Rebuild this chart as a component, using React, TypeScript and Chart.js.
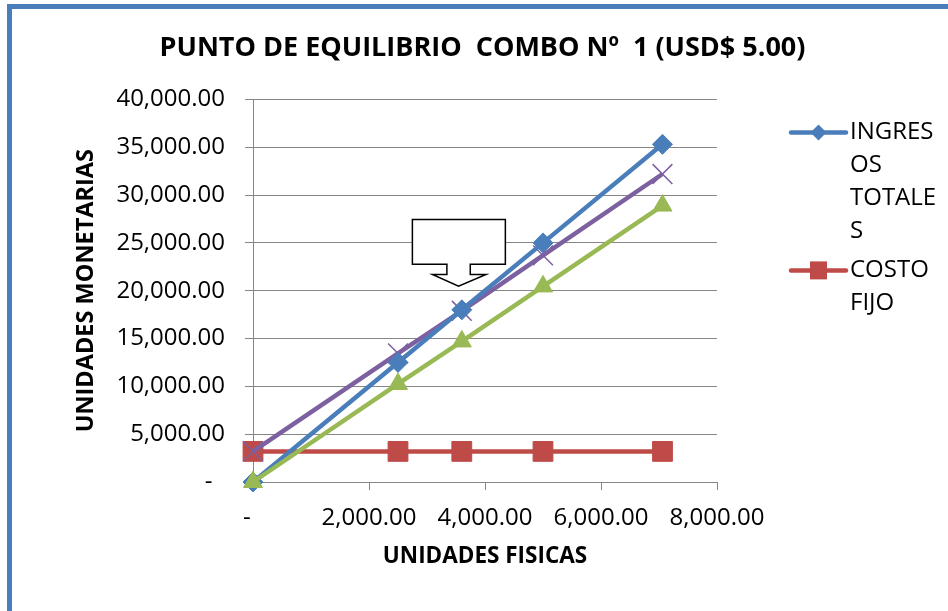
import React, { useEffect, useRef } from 'react';
import { Chart, registerables } from 'chart.js';

Chart.register(...registerables);

// ---- Data ----
const TITLE = 'PUNTO DE EQUILIBRIO  COMBO Nº  1 (USD$ 5.00)';
const X_TITLE = 'UNIDADES FISICAS';
const Y_TITLE = 'UNIDADES MONETARIAS';

const UNIDADES = [0, 2500, 3600, 5000, 7060];
const INGRESOS_TOTALES = [0, 12500, 18000, 25000, 35300];
const COSTO_FIJO = [3200, 3200, 3200, 3200, 3200];
const COSTO_VARIABLE = [0, 10250, 14700, 20450, 28900];
const COSTO_TOTAL = [3200, 13450, 17900, 23700, 32200];

const X_MIN = 0;
const X_MAX = 8000;
const X_STEP = 2000;
const Y_MIN = 0;
const Y_MAX = 40000;
const Y_STEP = 5000;

const LEGEND_INGRESOS = ['INGRES', 'OS', 'TOTALE', 'S'];
const LEGEND_COSTO_FIJO = ['COSTO', 'FIJO'];

// Callout (down-arrow) outline in data units
const CALLOUT_X = [2748, 4351, 4351, 3746, 3746, 4017, 3544, 3094, 3343, 3343, 2748];
const CALLOUT_Y = [27450, 27450, 22770, 22770, 21700, 21700, 20470, 21700, 21700, 22770, 22770];

// ---- Styles ----
const BLUE = '#4A7EBB';
const RED = '#BE4B48';
const GREEN = '#98B954';
const PURPLE = '#7D60A0';
const GRID = '#868686';
const FONT = '"Open Sans", "Liberation Sans", sans-serif';
const LINE_W = 4.5;

const fmt = new Intl.NumberFormat('en-US', { minimumFractionDigits: 2, maximumFractionDigits: 2 });

const toPoints = (ys: number[]) => UNIDADES.map((x, i) => ({ x, y: ys[i] }));

const legendPlugin = {
  id: 'customLegend',
  afterDraw(chart: any) {
    const { ctx, chartArea } = chart;
    const items = [
      { lines: LEGEND_INGRESOS, color: BLUE, marker: 'diamond' },
      { lines: LEGEND_COSTO_FIJO, color: RED, marker: 'square' },
    ];
    const x0 = chartArea.right + 74;
    const x1 = chartArea.right + 129;
    const tx = chartArea.right + 133;
    const lh = 33;
    let y = chartArea.top + 33;
    ctx.save();
    items.forEach((it) => {
      ctx.strokeStyle = it.color;
      ctx.lineWidth = LINE_W;
      ctx.lineCap = 'round';
      ctx.beginPath();
      ctx.moveTo(x0, y);
      ctx.lineTo(x1, y);
      ctx.stroke();
      const cx = (x0 + x1) / 2;
      ctx.fillStyle = it.color;
      ctx.beginPath();
      if (it.marker === 'diamond') {
        ctx.moveTo(cx, y - 8);
        ctx.lineTo(cx + 8, y);
        ctx.lineTo(cx, y + 8);
        ctx.lineTo(cx - 8, y);
        ctx.closePath();
      } else {
        ctx.rect(cx - 8.5, y - 9, 17, 18);
      }
      ctx.fill();
      ctx.fillStyle = '#000';
      ctx.font = `24px ${FONT}`;
      ctx.textAlign = 'left';
      ctx.textBaseline = 'middle';
      it.lines.forEach((t, i) => ctx.fillText(t, tx, y + i * lh));
      y += it.lines.length * lh + 6;
    });
    ctx.restore();
  },
};

const calloutPlugin = {
  id: 'callout',
  afterDatasetsDraw(chart: any) {
    const { ctx, scales } = chart;
    ctx.save();
    ctx.beginPath();
    CALLOUT_X.forEach((xv, i) => {
      const px = scales.x.getPixelForValue(xv);
      const py = scales.y.getPixelForValue(CALLOUT_Y[i]);
      if (i === 0) ctx.moveTo(px, py);
      else ctx.lineTo(px, py);
    });
    ctx.closePath();
    ctx.fillStyle = '#FFFFFF';
    ctx.fill();
    ctx.strokeStyle = '#000000';
    ctx.lineWidth = 1.5;
    ctx.lineJoin = 'miter';
    ctx.stroke();
    ctx.restore();
  },
};

export default function App() {
  const canvasRef = useRef<HTMLCanvasElement | null>(null);

  useEffect(() => {
    const canvas = canvasRef.current;
    if (!canvas) return;
    const chart = new Chart(canvas, {
      type: 'scatter',
      data: {
        datasets: [
          {
            label: 'INGRESOS TOTALES',
            data: toPoints(INGRESOS_TOTALES),
            showLine: true,
            borderColor: BLUE,
            backgroundColor: BLUE,
            borderWidth: LINE_W,
            pointStyle: 'rectRot',
            pointRadius: 10,
            pointBorderWidth: 1,
            pointBackgroundColor: BLUE,
            pointBorderColor: BLUE,
            clip: false,
            order: 1,
          },
          {
            label: 'COSTO FIJO',
            data: toPoints(COSTO_FIJO),
            showLine: true,
            borderColor: RED,
            backgroundColor: RED,
            borderWidth: LINE_W,
            pointStyle: 'rect',
            pointRadius: 14,
            pointBorderWidth: 1,
            pointBackgroundColor: RED,
            pointBorderColor: RED,
            clip: false,
            order: 3,
          },
          {
            label: 'COSTO VARIABLE',
            data: toPoints(COSTO_VARIABLE),
            showLine: true,
            borderColor: GREEN,
            backgroundColor: GREEN,
            borderWidth: LINE_W,
            pointStyle: 'triangle',
            pointRadius: 11,
            pointBorderWidth: 1,
            pointBackgroundColor: GREEN,
            pointBorderColor: GREEN,
            clip: false,
            order: 0,
          },
          {
            label: 'COSTO TOTAL',
            data: toPoints(COSTO_TOTAL),
            showLine: true,
            borderColor: PURPLE,
            backgroundColor: PURPLE,
            borderWidth: LINE_W,
            pointStyle: 'crossRot',
            pointRadius: 14,
            pointBorderWidth: 1.5,
            pointBackgroundColor: PURPLE,
            pointBorderColor: PURPLE,
            clip: false,
            order: 2,
          },
        ],
      },
      options: {
        responsive: false,
        animation: false,
        devicePixelRatio: 1,
        layout: { padding: { left: 17, right: 0, top: 0, bottom: 0 } },
        plugins: {
          legend: { display: false },
          tooltip: { enabled: false },
          title: {
            display: true,
            text: TITLE,
            color: '#000',
            font: { family: FONT, size: 27, weight: 'bold', lineHeight: 1.2 },
            padding: { top: 32, bottom: 35 },
          },
        },
        scales: {
          x: {
            type: 'linear',
            min: X_MIN,
            max: X_MAX,
            ticks: {
              stepSize: X_STEP,
              color: '#000',
              font: { family: FONT, size: 24 },
              padding: 14,
              maxRotation: 0,
              autoSkip: false,
              callback: (v: any) => (Number(v) === 0 ? '-  ' : fmt.format(Number(v))),
            },
            grid: {
              drawOnChartArea: false,
              drawTicks: true,
              tickLength: 8,
              color: GRID,
              lineWidth: 1,
            },
            border: { display: true, color: GRID, width: 1 },
            title: {
              display: true,
              text: X_TITLE,
              color: '#000',
              font: { family: FONT, size: 22.5, weight: 'bold', lineHeight: 1.2 },
              padding: { top: 0, bottom: 41 },
            },
            afterFit: (scale: any) => {
              scale.height = 129;
            },
          },
          y: {
            type: 'linear',
            min: Y_MIN,
            max: Y_MAX,
            ticks: {
              stepSize: Y_STEP,
              color: '#000',
              font: { family: FONT, size: 24 },
              padding: 20,
              callback: (v: any) => (Number(v) === 0 ? '-  ' : fmt.format(Number(v))),
            },
            grid: {
              drawOnChartArea: true,
              drawTicks: true,
              tickLength: 8,
              color: GRID,
              lineWidth: 1,
            },
            border: { display: true, color: GRID, width: 1 },
            title: {
              display: true,
              text: Y_TITLE,
              color: '#000',
              font: { family: FONT, size: 23.5, weight: 'bold', lineHeight: 1.2 },
              padding: { top: 55, bottom: 0 },
            },
            afterFit: (scale: any) => {
              scale.width = 236;
            },
          },
          legendSpace: {
            type: 'linear',
            position: 'right',
            display: true,
            min: Y_MIN,
            max: Y_MAX,
            ticks: { display: false },
            grid: { display: false, drawTicks: false },
            border: { display: false },
            title: { display: false },
            afterFit: (scale: any) => {
              scale.width = 231;
            },
          },
        },
      },
      plugins: [calloutPlugin, legendPlugin],
    });
    return () => chart.destroy();
  }, []);

  return (
    <div style={{ position: 'fixed', left: 0, top: 0, width: 948, height: 611, background: '#fff', overflow: 'hidden' }}>
      <div
        style={{
          position: 'absolute',
          left: 7,
          top: 4,
          width: 1000,
          height: 700,
          border: `5px solid ${BLUE}`,
          boxSizing: 'border-box',
        }}
      />
      <canvas
        ref={canvasRef}
        width={948}
        height={611}
        style={{ position: 'absolute', left: 0, top: 0, width: 948, height: 611 }}
      />
    </div>
  );
}
